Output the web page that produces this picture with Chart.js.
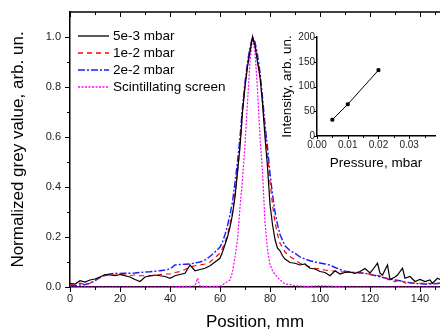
<!DOCTYPE html>
<html>
<head>
<meta charset="utf-8">
<script src="https://cdn.jsdelivr.net/npm/chart.js@4.4.1/dist/chart.umd.min.js"></script>
<style>
  body { margin: 0; background: #fff; }
  #wrap { position: relative; width: 440px; height: 331px; }
  #main { position: absolute; left: 0; top: 0; }
  #inset { position: absolute; left: 270px; top: 30px; }
</style>
</head>
<body>
<div id="wrap">
  <canvas id="main" width="440" height="331"></canvas>
  <canvas id="inset" width="170" height="140"></canvas>
</div>
<script>
// 5e-3 mbar (noisy black trace)
const posBlack = [
    0, 2, 4, 6, 8, 10, 12, 14, 16, 18, 20, 22, 24, 26, 28, 30, 32, 34, 36, 38, 40, 42, 44, 46, 48, 50, 52, 54, 56, 58,
    60, 61, 62, 63, 64, 65, 66, 67, 68, 69, 70, 71, 72, 73, 74, 75, 76, 77, 78, 79, 80, 81, 82, 83, 84, 85, 86,
    88, 90, 92, 94, 96, 98, 100, 102, 104, 106, 108, 110, 112, 114, 116, 118, 120,
    121, 123, 124, 125, 127, 128, 130, 131, 133, 134,
    136, 138, 140, 142, 144, 145, 147, 148
];
const valBlack = [
    0.015, 0.012, 0.025, 0.02, 0.028, 0.032, 0.04, 0.05, 0.048, 0.045, 0.05, 0.045, 0.04, 0.03, 0.022, 0.04, 0.045, 0.048, 0.045, 0.042, 0.035, 0.045, 0.05, 0.055, 0.088, 0.065, 0.07, 0.075, 0.085, 0.1,
    0.115, 0.14, 0.17, 0.2, 0.24, 0.29, 0.36, 0.46, 0.56, 0.7, 0.8, 0.88, 0.94, 1.0, 0.965, 0.9, 0.84, 0.735, 0.6, 0.48, 0.33, 0.25, 0.19, 0.155, 0.145, 0.125, 0.112,
    0.098, 0.095, 0.088, 0.092, 0.075, 0.072, 0.062, 0.058, 0.045, 0.065, 0.052, 0.058, 0.06, 0.055, 0.062, 0.074, 0.056,
    0.068, 0.095, 0.055, 0.048, 0.088, 0.03, 0.04, 0.048, 0.075, 0.035,
    0.042, 0.022, 0.03, 0.022, 0.028, 0.015, 0.035, 0.03
];

// 1e-2 and 2e-2 mbar share one grid
const posSmooth = [
    0, 2, 4, 6, 8, 10, 12, 14, 16, 18, 20, 22, 24, 26, 28, 30, 32, 34, 36, 38, 40, 42, 44, 46, 48, 50, 52, 54, 56, 58,
    60, 61, 62, 63, 64, 65, 66, 67, 68, 69, 70, 71, 72, 73, 74, 75, 76, 77, 78, 79, 80, 81, 82, 83, 84,
    86, 88, 90, 92, 94, 96, 98, 100, 102, 104, 106, 108, 110, 112, 114, 116, 118, 120, 122, 124, 126, 128, 130, 132, 134, 136, 138, 140, 142, 144, 146, 148
];
const valRed = [
    0.01, 0.008, 0.015, 0.01, 0.015, 0.028, 0.04, 0.045, 0.05, 0.048, 0.05, 0.048, 0.046, 0.048, 0.045, 0.045, 0.044, 0.046, 0.05, 0.052, 0.052, 0.058, 0.062, 0.07, 0.08, 0.085, 0.088, 0.092, 0.1, 0.118,
    0.135, 0.155, 0.18, 0.21, 0.25, 0.3, 0.37, 0.46, 0.57, 0.7, 0.81, 0.89, 0.95, 1.0, 0.97, 0.91, 0.84, 0.74, 0.63, 0.52, 0.42, 0.33, 0.26, 0.21, 0.175,
    0.14, 0.122, 0.108, 0.095, 0.088, 0.08, 0.075, 0.072, 0.068, 0.066, 0.063, 0.061, 0.06, 0.058, 0.057, 0.056, 0.055, 0.052, 0.048, 0.045, 0.036, 0.028, 0.022, 0.028, 0.016, 0.015, 0.016, 0.015, 0.014, 0.015, 0.014, 0.015
];
const valBlue = [
    0.005, 0.005, 0.008, 0.01, 0.015, 0.025, 0.038, 0.048, 0.052, 0.055, 0.054, 0.055, 0.055, 0.056, 0.058, 0.06, 0.061, 0.063, 0.065, 0.068, 0.072, 0.088, 0.09, 0.091, 0.092, 0.096, 0.1, 0.108, 0.122, 0.14,
    0.16, 0.18, 0.21, 0.245, 0.29, 0.34, 0.42, 0.5, 0.6, 0.72, 0.82, 0.9, 0.96, 1.0, 0.98, 0.93, 0.86, 0.76, 0.65, 0.56, 0.455, 0.37, 0.3, 0.25, 0.21,
    0.165, 0.145, 0.135, 0.12, 0.112, 0.105, 0.1, 0.096, 0.092, 0.088, 0.078, 0.07, 0.063, 0.06, 0.058, 0.057, 0.055, 0.05, 0.046, 0.041, 0.036, 0.031, 0.028, 0.025, 0.02, 0.017, 0.014, 0.013, 0.012, 0.012, 0.013, 0.015
];

// scintillating screen reference profile
const posScreen = [
    0, 40, 44, 48, 50, 51, 52, 56, 60,
    62, 63, 64, 65, 66, 67, 68, 69, 70, 71, 72, 73, 74, 75, 76, 77, 78, 79, 80, 81, 82,
    84, 86, 88, 90, 95, 100, 105, 110, 148
];
const valScreen = [
    0, 0, 0.002, 0.003, 0.005, 0.035, 0.003, 0.002, 0.003,
    0.015, 0.022, 0.028, 0.06, 0.12, 0.19, 0.32, 0.43, 0.57, 0.74, 0.9, 1.0, 0.94, 0.79, 0.6, 0.46, 0.26, 0.15, 0.09, 0.065, 0.05,
    0.028, 0.012, 0.01, 0.005, 0.002, 0.005, 0.003, 0, 0
];

const seriesLabels = ['5e-3 mbar', '1e-2 mbar', '2e-2 mbar', 'Scintillating screen'];
const seriesColors = ['#000000', '#ff0000', '#1a1aff', '#ff00ff'];
const seriesDash = [[], [5, 4], [7, 2, 2, 2], [2, 1.5]];

const xTicks = [0, 20, 40, 60, 80, 100, 120, 140];
const xMinor = [10, 30, 50, 70, 90, 110, 130, 146];
const yTicks = [0, 0.2, 0.4, 0.6, 0.8, 1.0];
const yMinor = [0.1, 0.3, 0.5, 0.7, 0.9];

// inset: peak intensity vs pressure
const pressure = [0.005, 0.01, 0.02];
const intensity = [33, 64, 133];
const insetXTicks = [0, 0.01, 0.02, 0.03];
const insetXMinor = [0.005, 0.015, 0.025, 0.035];
const insetYTicks = [0, 50, 100, 150, 200];

const FONT = "'Liberation Sans', Arial, sans-serif";

const toPoints = (xs, ys) => xs.map((x, i) => ({ x: x, y: ys[i] }));

// tick marks drawn by hand so major/minor lengths differ
const tickMarks = {
    id: 'tickMarks',
    afterDraw(chart, args, o) {
        const { ctx, chartArea: a, scales: { x, y } } = chart;
        ctx.save();
        ctx.strokeStyle = '#000';
        ctx.lineWidth = 1;
        ctx.beginPath();
        const line = (x0, y0, x1, y1) => { ctx.moveTo(x0, y0); ctx.lineTo(x1, y1); };
        const xs = (vals, len) => vals.forEach(v => {
            const p = Math.round(x.getPixelForValue(v)) + 0.5;
            if (p > a.right + 1) return;
            line(p, a.bottom, p, a.bottom + len);
            if (o.top) line(p, a.top, p, a.top + len);
        });
        const ys = (vals, len) => vals.forEach(v => {
            const p = Math.round(y.getPixelForValue(v)) + 0.5;
            line(a.left, p, a.left - len, p);
        });
        xs(o.xMajor, o.major);
        xs(o.xMinor, o.minor);
        ys(o.yMajor, o.major);
        ys(o.yMinor || [], o.minor);
        ctx.stroke();
        if (o.top) {
            ctx.lineWidth = 1.5;
            ctx.beginPath();
            line(a.left, a.top, a.right, a.top);
            ctx.stroke();
        }
        ctx.restore();
    }
};

// legend inside the plot, top left
const insideLegend = {
    id: 'insideLegend',
    afterDraw(chart) {
        const ctx = chart.ctx;
        ctx.save();
        ctx.font = '13.5px ' + FONT;
        ctx.textBaseline = 'middle';
        seriesLabels.forEach((label, i) => {
            const yy = 36 + i * 17;
            ctx.strokeStyle = seriesColors[i];
            ctx.lineWidth = 1.3;
            ctx.setLineDash(seriesDash[i]);
            ctx.beginPath();
            ctx.moveTo(78, yy);
            ctx.lineTo(109, yy);
            ctx.stroke();
            ctx.fillStyle = '#000';
            ctx.fillText(label, 113, yy + 0.5);
        });
        ctx.restore();
    }
};

function axisBase(ticks, fmt, size, tl, pad) {
    return {
        type: 'linear',
        afterBuildTicks: ax => { ax.ticks = ticks.map(v => ({ value: v })); },
        grid: { display: false, drawTicks: true, tickLength: tl },
        border: { display: true, color: '#000', width: 1.5 },
        ticks: { font: { size: size, family: FONT }, color: '#222', padding: pad, maxRotation: 0, autoSkip: false, callback: fmt }
    };
}

new Chart(document.getElementById('main'), {
    type: 'line',
    data: {
        datasets: [
            { label: seriesLabels[0], data: toPoints(posBlack, valBlack), borderColor: seriesColors[0], borderWidth: 1.2 },
            { label: seriesLabels[1], data: toPoints(posSmooth, valRed), borderColor: seriesColors[1], borderWidth: 1.2, borderDash: seriesDash[1] },
            { label: seriesLabels[2], data: toPoints(posSmooth, valBlue), borderColor: seriesColors[2], borderWidth: 1.4, borderDash: seriesDash[2] },
            { label: seriesLabels[3], data: toPoints(posScreen, valScreen), borderColor: seriesColors[3], borderWidth: 1.2, borderDash: seriesDash[3] }
        ]
    },
    options: {
        responsive: false,
        animation: false,
        layout: { padding: { top: 12, left: 0, right: 0, bottom: 0 } },
        elements: { point: { radius: 0 }, line: { tension: 0 } },
        scales: {
            x: Object.assign(axisBase(xTicks, v => v, 11, 4, 1), {
                min: 0, max: 148,
                afterFit: ax => { ax.height = 44; },
                title: { display: true, text: 'Position, mm', color: '#000', font: { size: 17, family: FONT, lineHeight: 1 }, padding: { top: 0.5, bottom: 0 } }
            }),
            y: Object.assign(axisBase(yTicks, v => v.toFixed(1), 11, 6, 3), {
                min: 0, max: 1.1,
                afterFit: ax => { ax.width = 70; },
                title: { display: true, text: 'Normalized grey value, arb. un.', color: '#000', font: { size: 17, family: FONT, lineHeight: 1 }, padding: { top: 10, bottom: 0 } }
            })
        },
        plugins: {
            legend: { display: false },
            tooltip: { enabled: false },
            tickMarks: { xMajor: xTicks, xMinor: xMinor, yMajor: yTicks, yMinor: yMinor, major: 5, minor: 3, top: true }
        }
    },
    plugins: [tickMarks, insideLegend]
});

new Chart(document.getElementById('inset'), {
    type: 'line',
    data: {
        datasets: [{
            label: 'Intensity',
            data: toPoints(pressure, intensity),
            borderColor: '#000',
            borderWidth: 1,
            pointStyle: 'rect',
            pointRadius: 2,
            pointBackgroundColor: '#000',
            pointBorderColor: '#000'
        }]
    },
    options: {
        responsive: false,
        animation: false,
        layout: { padding: { top: 6, left: 0, right: 0, bottom: 0 } },
        scales: {
            x: Object.assign(axisBase(insetXTicks, v => v.toFixed(2), 10, 2, 1.5), {
                min: 0, max: 0.0384,
                afterFit: ax => { ax.height = 34; },
                title: { display: true, text: 'Pressure, mbar', color: '#000', font: { size: 13.5, family: FONT, lineHeight: 1 }, padding: { top: 2.5, bottom: 0 } }
            }),
            y: Object.assign(axisBase(insetYTicks, v => v, 10, 1, 1), {
                min: 0, max: 200,
                afterFit: ax => { ax.width = 47; },
                title: { display: true, text: 'Intensity, arb. un.', color: '#000', font: { size: 13.5, family: FONT, lineHeight: 1 }, padding: { top: 11, bottom: 0 } }
            })
        },
        plugins: {
            legend: { display: false },
            tooltip: { enabled: false },
            tickMarks: { xMajor: insetXTicks, xMinor: insetXMinor, yMajor: insetYTicks, major: 3, minor: 2, top: false }
        }
    },
    plugins: [tickMarks]
});
</script>
</body>
</html>
